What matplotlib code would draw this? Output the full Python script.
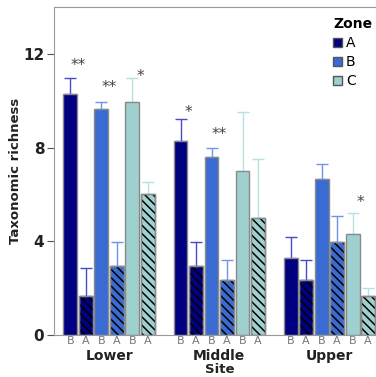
import numpy as np
import matplotlib.pyplot as plt
from matplotlib.patches import Patch

# data
sites = ['Lower', 'Middle', 'Upper']
zones = ['A', 'B', 'C']
periods = ['B', 'A']
# mean per site, zone, period (B then A)
means = {
    'Lower':  [[10.3, 1.65], [9.65, 2.95], [9.95, 6.0]],
    'Middle': [[8.3, 2.95], [7.6, 2.35], [7.0, 5.0]],
    'Upper':  [[3.3, 2.35], [6.65, 3.95], [4.3, 1.65]],
}
# upper error bar end
tops = {
    'Lower':  [[10.95, 2.85], [9.95, 3.95], [10.95, 6.55]],
    'Middle': [[9.2, 3.95], [8.0, 3.2], [9.5, 7.5]],
    'Upper':  [[4.2, 3.2], [7.3, 5.1], [5.2, 2.0]],
}
stars = {('Lower', 'A'): '**', ('Lower', 'B'): '**', ('Lower', 'C'): '*',
         ('Middle', 'A'): '*', ('Middle', 'B'): '**', ('Upper', 'C'): '*'}
star_y = {('Lower', 'A'): 11.5, ('Lower', 'B'): 10.55, ('Lower', 'C'): 11.05,
          ('Middle', 'A'): 9.5, ('Middle', 'B'): 8.55, ('Upper', 'C'): 5.65}

fill = {'A': '#000080', 'B': '#3a6bd3', 'C': '#9dd0cf'}
errc = {'A': '#4a4ac8', 'B': '#6f95e6', 'C': '#b5e2e0'}
edge = '#8a8a8a'

plt.rcParams['hatch.linewidth'] = 1.1
fig = plt.figure(figsize=(3.76, 3.77), dpi=100)
ax = fig.add_axes([0.1436, 0.1114, 0.8564, 0.87])

group_off = 7.1
xt, xl = [], []
for g, s in enumerate(sites):
    for z_i, z in enumerate(zones):
        for p_i, p in enumerate(periods):
            x = g * group_off + z_i * 2 + p_i
            m = means[s][z_i][p_i]
            t = tops[s][z_i][p_i]
            ax.bar(x, m, width=0.9, color=fill[z], edgecolor=edge, linewidth=1,
                   zorder=2)
            if p == 'A':
                ax.bar(x, m, width=0.9, color='none', edgecolor='black',
                       hatch='\\\\\\\\', linewidth=0, zorder=3)
                ax.bar(x, m, width=0.9, color='none', edgecolor=edge,
                       linewidth=1, zorder=4)
            ax.errorbar(x, m, yerr=[[0], [t - m]], color=errc[z], capsize=4.5,
                        elinewidth=1, capthick=1, zorder=1)
            xt.append(x)
            xl.append(p)
        key = (s, z)
        if key in stars:
            ax.text(g * group_off + z_i * 2 + 0.5, star_y[key], stars[key],
                    ha='center', va='center', fontsize=11, color='#444444')
    ax.text(g * group_off + 2.5, -0.88, s, ha='center', va='center',
            fontsize=10, fontweight='bold', color='#222222')

ax.text(group_off + 2.5, -1.47, 'Site', ha='center', va='center',
        fontsize=9.5, fontweight='bold', color='#222222')

ax.set_xlim(-1.06, 19.71)
ax.set_ylim(0, 14)
ax.set_yticks([0, 4, 8, 12])
ax.set_yticklabels(['0', '4', '8', '12'], fontsize=11, fontweight='bold',
                   color='#222222')
ax.set_xticks(xt)
ax.set_xticklabels(xl, fontsize=8, color='#777777')
ax.tick_params(axis='x', length=0, pad=1)
ax.tick_params(axis='y', length=5, color='#555555', pad=2)
for sp in ['left', 'top', 'bottom']:
    ax.spines[sp].set_color('#999999')
ax.spines['right'].set_visible(False)
ax.set_ylabel('Taxonomic richness', fontsize=9.5, fontweight='bold',
              color='#222222', labelpad=1)

handles = [Patch(facecolor=fill[z], edgecolor='#555555', label=z) for z in zones]
leg = ax.legend(handles=handles, title='Zone', loc='upper left',
                bbox_to_anchor=(0.85, 0.985), frameon=False, fontsize=10,
                handlelength=0.6, handleheight=0.6, handletextpad=0.3,
                labelspacing=0.35, alignment='left', borderaxespad=0)
leg.get_title().set_fontweight('bold')
leg.get_title().set_fontsize(10)

fig.savefig('out.png', dpi=100)
